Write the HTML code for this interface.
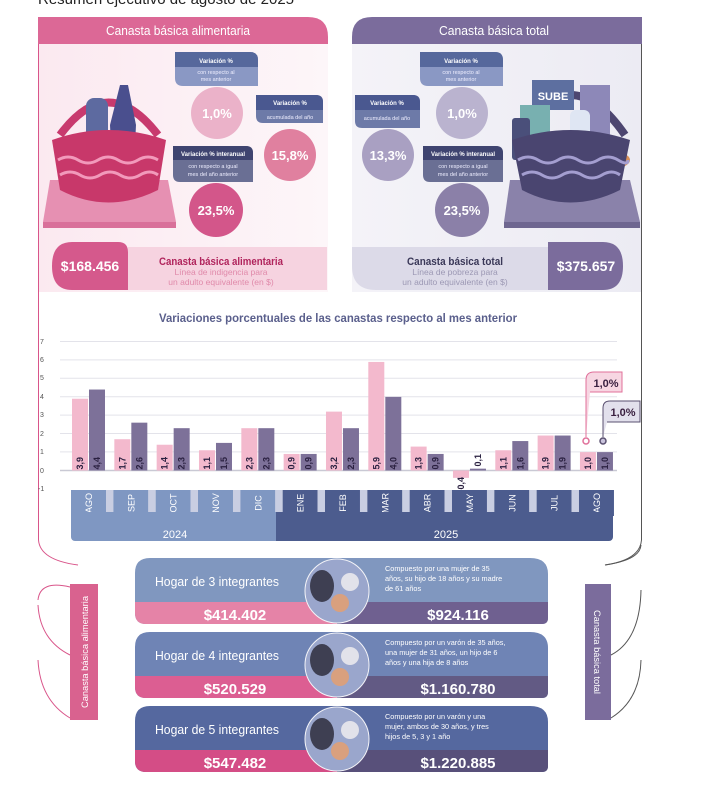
<!DOCTYPE html>
<html><head><meta charset="utf-8"><style>
html,body{margin:0;padding:0;background:#fff;width:715px;height:799px;overflow:hidden}
svg{display:block}
text{font-family:"Liberation Sans",sans-serif}
.n{font-family:"Liberation Sans Narrow","Liberation Sans",sans-serif}
</style></head><body>
<svg width="715" height="799" viewBox="0 0 715 799" xmlns="http://www.w3.org/2000/svg">
<defs>
<linearGradient id="pg" x1="0" x2="1" y1="0" y2="0"><stop offset="0" stop-color="#fbe9f0"/><stop offset="1" stop-color="#fdf6f9"/></linearGradient>
<linearGradient id="vg" x1="0" x2="1" y1="0" y2="0"><stop offset="0" stop-color="#f4f3f8"/><stop offset="1" stop-color="#ecebf3"/></linearGradient>
</defs>
<text x="38" y="4" font-size="15" fill="#222">Resumen ejecutivo de agosto de 2025</text>

<!-- LEFT PANEL -->
<rect x="38" y="44" width="290" height="248" fill="url(#pg)"/>
<path d="M38 17 H308 Q328 17 328 37 V44 H38 Z" fill="#dc6896"/>
<text x="178" y="35" font-size="13" fill="#fff" text-anchor="middle" textLength="144" lengthAdjust="spacingAndGlyphs">Canasta básica alimentaria</text>
<line x1="38.5" y1="44" x2="38.5" y2="540" stroke="#d9558a" stroke-width="1"/>
<polygon points="50,180 168,180 176,222 43,222" fill="#e690b2"/>
<rect x="43" y="222" width="133" height="6" fill="#d9709a"/>
<path d="M60 135 Q108 70 158 135" fill="none" stroke="#c83a6e" stroke-width="8"/>
<rect x="86" y="98" width="22" height="62" rx="8" fill="#5d6aa0"/>
<polygon points="120,85 128,85 136,125 134,165 112,165 110,125" fill="#4a4f8e"/>
<polygon points="60,145 96,138 100,165 62,170" fill="#f0dc9a"/>
<ellipse cx="140" cy="155" rx="22" ry="10" fill="#e0a070"/>
<path d="M52 140 Q108 120 166 140 L158 190 Q108 215 60 190 Z" fill="#c8386a"/>
<path d="M58 160 q10 -6 20 0 t20 0 t20 0 t20 0 t20 0 M60 175 q10 -6 20 0 t20 0 t20 0 t20 0 t18 0" fill="none" stroke="#f29abb" stroke-width="3"/>
<path d="M175 52 H250 Q258 52 258 60 V86 H183 Q175 86 175 78 Z" fill="#8a98c4"/>
<path d="M175 52 H250 Q258 52 258 60 V67 H175 Z" fill="#56689c"/>
<text x="216" y="63" font-size="6" fill="#fff" text-anchor="middle" font-weight="bold">Variación %</text>
<text x="216" y="74" font-size="5.5" fill="#eef" text-anchor="middle">con respecto al</text>
<text x="216" y="81" font-size="5.5" fill="#eef" text-anchor="middle">mes anterior</text>
<circle cx="217" cy="113" r="26" fill="#ebb2c9"/>
<text x="217" y="118" font-size="13" fill="#fff" text-anchor="middle" font-weight="bold">1,0%</text>
<path d="M256 95 H316 Q323 95 323 102 V123 H263 Q256 123 256 116 Z" fill="#6d7aa8"/>
<path d="M256 95 H316 Q323 95 323 102 V110 H256 Z" fill="#4a5890"/>
<text x="290" y="105" font-size="6" fill="#fff" text-anchor="middle" font-weight="bold">Variación %</text>
<text x="290" y="119" font-size="5.5" fill="#eef" text-anchor="middle">acumulada del año</text>
<circle cx="290" cy="155" r="26" fill="#e0809f"/>
<text x="290" y="160" font-size="13" fill="#fff" text-anchor="middle" font-weight="bold">15,8%</text>
<path d="M173 146 H246 Q253 146 253 153 V182 H180 Q173 182 173 175 Z" fill="#6a6f94"/>
<path d="M173 146 H246 Q253 146 253 153 V160 H173 Z" fill="#3f4470"/>
<text x="213" y="156" font-size="6" fill="#fff" text-anchor="middle" font-weight="bold">Variación % interanual</text>
<text x="213" y="168" font-size="5.5" fill="#eef" text-anchor="middle">con respecto a igual</text>
<text x="213" y="176" font-size="5.5" fill="#eef" text-anchor="middle">mes del año anterior</text>
<circle cx="216" cy="210" r="27" fill="#d3568a"/>
<text x="216" y="215" font-size="13" fill="#fff" text-anchor="middle" font-weight="bold">23,5%</text>
<rect x="128" y="247" width="199" height="43" fill="#f6d3e0"/>
<path d="M72 242 H118 Q128 242 128 252 V290 H72 Q52 290 52 266 Q52 242 72 242 Z" fill="#d5598c"/>
<text x="90" y="271" font-size="14" fill="#fff" text-anchor="middle" font-weight="bold">$168.456</text>
<text x="221" y="265" font-size="11" fill="#b0245c" text-anchor="middle" font-weight="bold" textLength="124" lengthAdjust="spacingAndGlyphs">Canasta básica alimentaria</text>
<text x="221" y="275" font-size="8.5" fill="#e08aaa" text-anchor="middle">Línea de indigencia para</text>
<text x="221" y="285" font-size="8.5" fill="#e08aaa" text-anchor="middle">un adulto equivalente (en $)</text>

<!-- RIGHT PANEL -->
<rect x="352" y="44" width="290" height="248" fill="url(#vg)"/>
<path d="M372 17 H642 V44 H352 V37 Q352 17 372 17 Z" fill="#7b6c9c"/>
<text x="494" y="35" font-size="13" fill="#fff" text-anchor="middle" textLength="110" lengthAdjust="spacingAndGlyphs">Canasta básica total</text>
<line x1="641.5" y1="44" x2="641.5" y2="540" stroke="#555" stroke-width="1"/>
<polygon points="510,180 630,180 640,222 504,222" fill="#8a82aa"/>
<rect x="504" y="222" width="136" height="6" fill="#6e6690"/>
<path d="M518 135 Q570 55 625 135" fill="none" stroke="#4d4670" stroke-width="8"/>
<rect x="532" y="80" width="42" height="30" fill="#5d6fa0"/>
<text x="553" y="100" font-size="11" fill="#fff" text-anchor="middle" font-weight="bold">SUBE</text>
<rect x="520" y="105" width="30" height="55" fill="#78b0b0"/>
<rect x="512" y="118" width="18" height="42" rx="3" fill="#4a4f7a"/>
<rect x="580" y="85" width="30" height="70" fill="#8d88b8"/>
<rect x="570" y="110" width="20" height="50" rx="6" fill="#dfe6f3"/>
<ellipse cx="605" cy="160" rx="25" ry="10" fill="#d99058"/>
<polygon points="540,150 570,145 572,168 540,170" fill="#f0dc9a"/>
<path d="M512 140 Q570 120 630 140 L620 190 Q570 215 522 190 Z" fill="#4a4570"/>
<path d="M518 160 q10 -6 20 0 t20 0 t20 0 t20 0 t20 0 t10 0 M522 175 q10 -6 20 0 t20 0 t20 0 t20 0 t18 0" fill="none" stroke="#a49ed0" stroke-width="3"/>
<path d="M420 52 H495 Q503 52 503 60 V86 H428 Q420 86 420 78 Z" fill="#8a98c4"/>
<path d="M420 52 H495 Q503 52 503 60 V67 H420 Z" fill="#56689c"/>
<text x="461" y="63" font-size="6" fill="#fff" text-anchor="middle" font-weight="bold">Variación %</text>
<text x="461" y="74" font-size="5.5" fill="#eef" text-anchor="middle">con respecto al</text>
<text x="461" y="81" font-size="5.5" fill="#eef" text-anchor="middle">mes anterior</text>
<circle cx="462" cy="113" r="26" fill="#bab3cf"/>
<text x="462" y="118" font-size="13" fill="#fff" text-anchor="middle" font-weight="bold">1,0%</text>
<path d="M355 95 H413 Q420 95 420 102 V128 H362 Q355 128 355 121 Z" fill="#6d7aa8"/>
<path d="M355 95 H413 Q420 95 420 102 V110 H355 Z" fill="#4a5890"/>
<text x="387" y="105" font-size="6" fill="#fff" text-anchor="middle" font-weight="bold">Variación %</text>
<text x="387" y="120" font-size="5.5" fill="#eef" text-anchor="middle">acumulada del año</text>
<circle cx="388" cy="155" r="26" fill="#a9a0c2"/>
<text x="388" y="160" font-size="13" fill="#fff" text-anchor="middle" font-weight="bold">13,3%</text>
<path d="M423 146 H496 Q503 146 503 153 V182 H430 Q423 182 423 175 Z" fill="#6a6f94"/>
<path d="M423 146 H496 Q503 146 503 153 V160 H423 Z" fill="#3f4470"/>
<text x="463" y="156" font-size="6" fill="#fff" text-anchor="middle" font-weight="bold">Variación % interanual</text>
<text x="463" y="168" font-size="5.5" fill="#eef" text-anchor="middle">con respecto a igual</text>
<text x="463" y="176" font-size="5.5" fill="#eef" text-anchor="middle">mes del año anterior</text>
<circle cx="462" cy="210" r="27" fill="#8b80a8"/>
<text x="462" y="215" font-size="13" fill="#fff" text-anchor="middle" font-weight="bold">23,5%</text>
<path d="M352 247 H548 V290 H376 Q352 290 352 266 Z" fill="#dcdae8"/>
<path d="M548 242 H603 Q623 242 623 266 Q623 290 603 290 H548 Z" fill="#7b6c9c"/>
<text x="586" y="271" font-size="14" fill="#fff" text-anchor="middle" font-weight="bold">$375.657</text>
<text x="455" y="265" font-size="11" fill="#3a3858" text-anchor="middle" font-weight="bold" textLength="96" lengthAdjust="spacingAndGlyphs">Canasta básica total</text>
<text x="455" y="275" font-size="8.5" fill="#9c98b4" text-anchor="middle">Línea de pobreza para</text>
<text x="455" y="285" font-size="8.5" fill="#9c98b4" text-anchor="middle">un adulto equivalente (en $)</text>

<path d="M38.5 540 Q40 560 78 565" fill="none" stroke="#d9558a"/>
<path d="M641.5 540 Q640 560 605 565" fill="none" stroke="#555"/>

<!-- CHART -->
<text x="338" y="322" font-size="12" fill="#5a5f8c" text-anchor="middle" font-weight="bold" textLength="358" lengthAdjust="spacingAndGlyphs">Variaciones porcentuales de las canastas respecto al mes anterior</text>
<g font-size="7" fill="#555">
<text x="40" y="344">7</text><text x="40" y="362">6</text><text x="40" y="380">5</text><text x="40" y="399">4</text><text x="40" y="417">3</text><text x="40" y="436">2</text><text x="40" y="454">1</text><text x="40" y="473">0</text><text x="38" y="491">-1</text>
</g>
<g stroke="#e3e3ea" stroke-width="1">
<line x1="60" y1="341.5" x2="617" y2="341.5"/><line x1="60" y1="359.9" x2="617" y2="359.9"/><line x1="60" y1="378.3" x2="617" y2="378.3"/><line x1="60" y1="396.7" x2="617" y2="396.7"/><line x1="60" y1="415.1" x2="617" y2="415.1"/><line x1="60" y1="433.5" x2="617" y2="433.5"/><line x1="60" y1="451.9" x2="617" y2="451.9"/>
</g>
<line x1="60" y1="470.5" x2="617" y2="470.5" stroke="#c9c9d4" stroke-width="1.5"/>
<g id="bars"></g>
<rect x="71" y="512" width="210" height="29" rx="4" fill="#7f97c2"/>
<rect x="276" y="512" width="337" height="29" rx="4" fill="#4c5c8e"/>
<rect x="276" y="512" width="8" height="29" fill="#4c5c8e"/>
<text x="175" y="538" font-size="11" fill="#fff" text-anchor="middle">2024</text>
<text x="446" y="538" font-size="11" fill="#fff" text-anchor="middle">2025</text>
<path d="M586 437 V380 Q586 372 594 372 H622 V392 H590" fill="#f7d6e2" stroke="#e0709a"/>
<text x="606" y="387" font-size="11" fill="#3a2040" text-anchor="middle" font-weight="bold">1,0%</text>
<circle cx="586" cy="441" r="3" fill="#fff" stroke="#e0709a" stroke-width="1.5"/>
<path d="M603 437 V408 Q603 401 610 401 H640 V422 H607" fill="#e2e0ec" stroke="#5a5070"/>
<text x="623" y="416" font-size="11" fill="#3a2040" text-anchor="middle" font-weight="bold">1,0%</text>
<circle cx="603" cy="441" r="3" fill="#c9c3dc" stroke="#5a5070" stroke-width="1.5"/>

<g id="hh"></g>
<rect x="70" y="584" width="28" height="136" fill="#d9628f"/>
<text transform="translate(88,652) rotate(-90)" font-size="9" fill="#fff" text-anchor="middle" textLength="112" lengthAdjust="spacingAndGlyphs">Canasta básica alimentaria</text>
<rect x="585" y="584" width="26" height="136" fill="#7b6c9c"/>
<text transform="translate(594,652) rotate(90)" font-size="9" fill="#fff" text-anchor="middle" textLength="84" lengthAdjust="spacingAndGlyphs">Canasta básica total</text>
<g fill="none" stroke="#d9558a" stroke-width="1">
<path d="M70 587 Q40 580 38 600"/><path d="M38 605 Q40 640 70 655"/><path d="M38 660 Q40 700 70 718"/>
</g>
<g fill="none" stroke="#555" stroke-width="1">
<path d="M611 655 Q640 640 641 590"/><path d="M611 718 Q640 700 641 660"/><path d="M605 565 Q640 560 641 545"/>
</g>
</svg>
<script>
var NS="http://www.w3.org/2000/svg";
function el(p,t,a,txt){var e=document.createElementNS(NS,t);for(var k in a)e.setAttribute(k,a[k]);if(txt!=null)e.textContent=txt;p.appendChild(e);return e;}
var g=document.getElementById('bars');
var P=[3.9,1.7,1.4,1.1,2.3,0.9,3.2,5.9,1.3,-0.4,1.1,1.9,1.0],V=[4.4,2.6,2.3,1.5,2.3,0.9,2.3,4.0,0.9,0.1,1.6,1.9,1.0];
var M=["AGO","SEP","OCT","NOV","DIC","ENE","FEB","MAR","ABR","MAY","JUN","JUL","AGO"];
var z=470.5,u=18.4;
function f(v){return v.toFixed(1).replace('.',',');}
for(var i=0;i<13;i++){
 var x=72+i*42.33;
 [[P[i],x,"#f3b9cd"],[V[i],x+17,"#7d7199"]].forEach(function(b){
  var v=b[0],y=v>=0?z-v*u:z,h=Math.abs(v)*u;
  el(g,'rect',{x:b[1],y:y,width:16,height:h,fill:b[2]});
  var cx=b[1]+11;
  var ty=v<0?z+22:(v<0.5?z-4:z-1);
  el(g,'text',{transform:'translate('+cx+','+ty+') rotate(-90)','font-size':9,'font-weight':'bold',fill:'#2a2040'},f(v));
 });
 el(g,'rect',{x:x-1,y:490,width:35,height:26,fill:i<5?"#7f97c2":"#4c5c8e"});
 el(g,'text',{transform:'translate('+(x+20)+',503) rotate(-90)','font-size':9,fill:'#fff','text-anchor':'middle'},M[i]);
 if(i<12) el(g,'rect',{x:x+34,y:490,width:7.3,height:22,fill:"#c9cee2"});
}
var h=document.getElementById('hh');
var R=[[558,"#8097bf","#e583a7","#6f6090","3","$414.402","$924.116",["Compuesto por una mujer de 35","años, su hijo de 18 años y su madre","de 61 años"]],
[632,"#6f84b5","#dc5e92","#625a84","4","$520.529","$1.160.780",["Compuesto por un varón de 35 años,","una mujer de 31 años, un hijo de 6","años y una hija de 8 años"]],
[706,"#55689f","#d44d86","#58507a","5","$547.482","$1.220.885",["Compuesto por un varón y una","mujer, ambos de 30 años, y tres","hijos de 5, 3 y 1 año"]]];
R.forEach(function(r){
 var y=r[0];
 el(h,'path',{d:'M150 '+y+' H530 Q548 '+y+' 548 '+(y+16)+' V'+(y+60)+' Q548 '+(y+66)+' 542 '+(y+66)+' H146 Q135 '+(y+66)+' 135 '+(y+55)+' V'+(y+15)+' Q135 '+y+' 150 '+y+' Z',fill:r[1]});
 el(h,'path',{d:'M135 '+(y+44)+' H337 V'+(y+66)+' H146 Q135 '+(y+66)+' 135 '+(y+55)+' Z',fill:r[2]});
 el(h,'path',{d:'M337 '+(y+44)+' H548 V'+(y+60)+' Q548 '+(y+66)+' 542 '+(y+66)+' H337 Z',fill:r[3]});
 el(h,'circle',{cx:337,cy:y+33,r:32,fill:'#9aa6cc',stroke:'#f4f4f8','stroke-width':1});
 el(h,'ellipse',{cx:322,cy:y+28,rx:12,ry:16,fill:'#3e3f52'});
 el(h,'circle',{cx:350,cy:y+24,r:9,fill:'#e2e2ea'});
 el(h,'circle',{cx:340,cy:y+45,r:9,fill:'#d9a07e'});
 el(h,'text',{x:217,y:y+28,'font-size':13,fill:'#fff','text-anchor':'middle',textLength:124,lengthAdjust:'spacingAndGlyphs'},'Hogar de '+r[4]+' integrantes');
 el(h,'text',{x:235,y:y+62,'font-size':15,'font-weight':'bold',fill:'#fff','text-anchor':'middle'},r[5]);
 el(h,'text',{x:458,y:y+62,'font-size':15,'font-weight':'bold',fill:'#fff','text-anchor':'middle'},r[6]);
 r[7].forEach(function(t,k){el(h,'text',{x:385,y:y+13+k*10,'font-size':7.3,fill:'#fff'},t);});
});
</script>
</body></html>
